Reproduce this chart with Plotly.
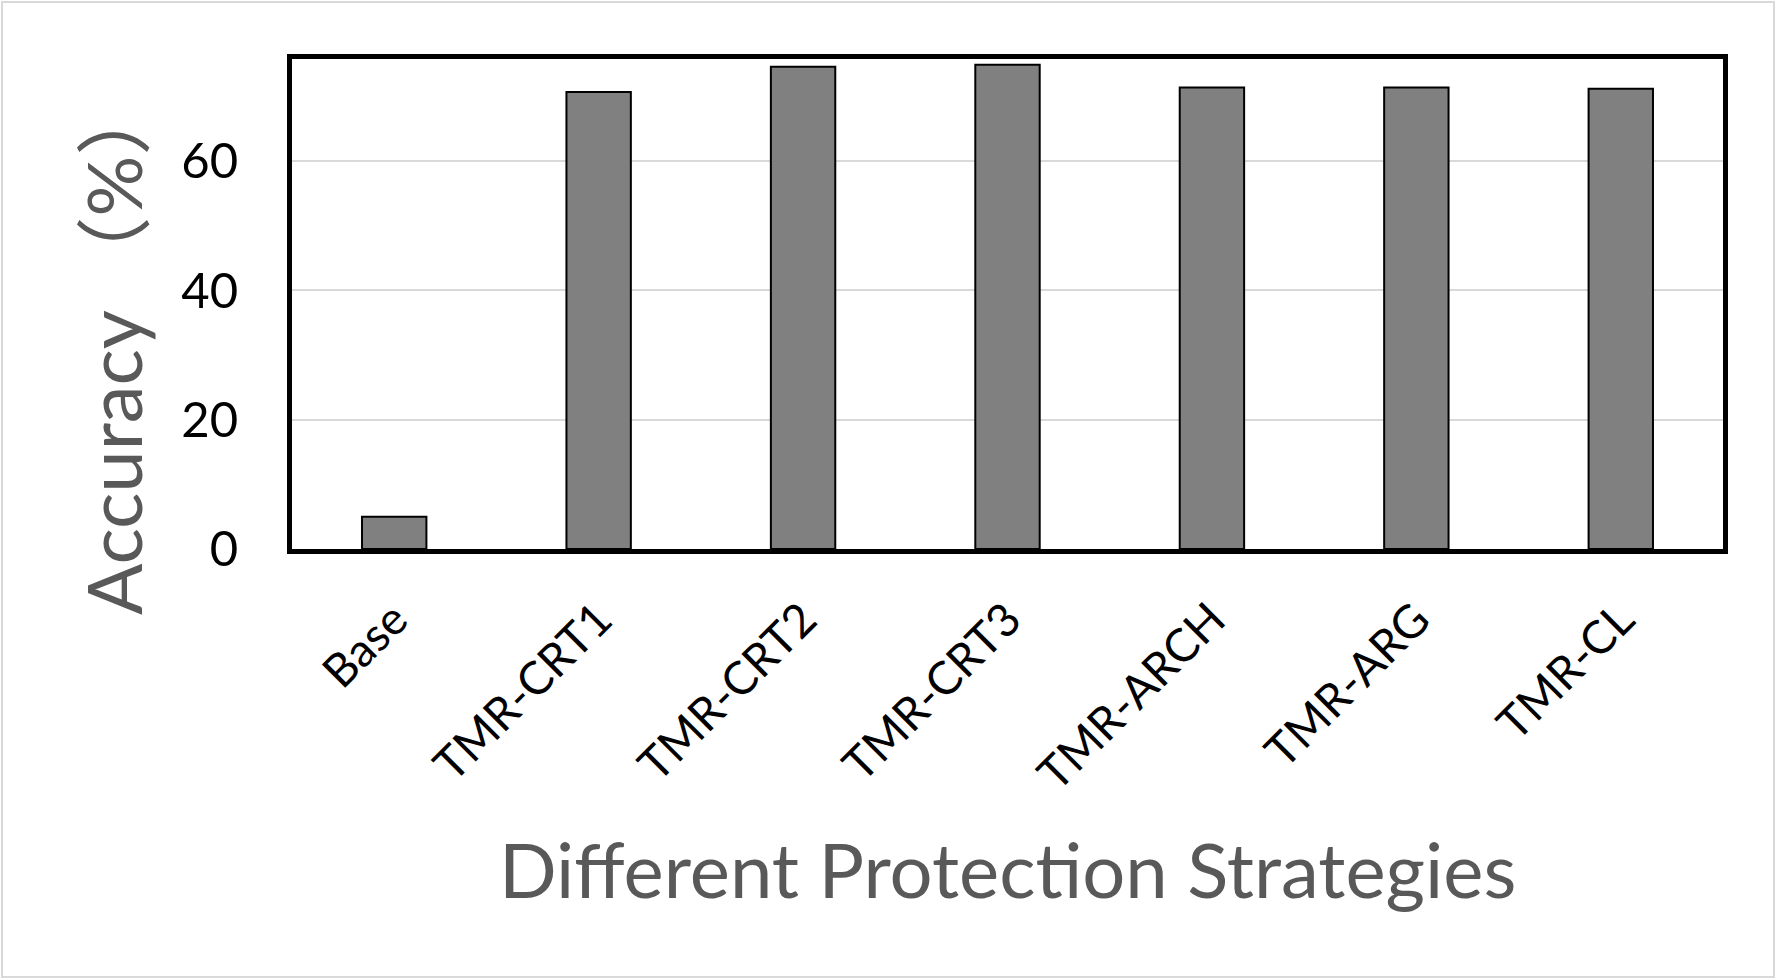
import plotly.graph_objects as go

categories = ["Base", "TMR-CRT1", "TMR-CRT2", "TMR-CRT3", "TMR-ARCH", "TMR-ARG", "TMR-CL"]
accuracy = [5.0, 70.7, 74.6, 74.9, 71.4, 71.4, 71.2]
y_ticks = [0, 20, 40, 60]

W, H = 1776, 979
L, R, T, B = 292, 1723, 59, 549

def px(x):
    return (x - L) / (R - L)

def py(y):
    return (B - y) / (B - T)

fig = go.Figure()
fig.add_trace(go.Bar(
    x=categories, y=accuracy, width=0.315,
    marker=dict(color="#808080", line=dict(color="black", width=2)),
))

fig.update_layout(
    width=W, height=H,
    margin=dict(l=L, r=W - R, t=T, b=H - B),
    plot_bgcolor="white", paper_bgcolor="white",
    showlegend=False,
    font=dict(family="Lato, Noto Sans CJK SC", color="black"),
    xaxis=dict(
        tickangle=-45, tickfont=dict(size=46, color="black"),
        showline=True, mirror=True, linecolor="black", linewidth=5,
        ticks="", ticklabelstandoff=20, range=[-0.5, 6.5],
    ),
    yaxis=dict(
        range=[0, 75.8], tickvals=y_ticks, tickfont=dict(size=49, color="black"),
        showline=True, mirror=True, linecolor="black", linewidth=5,
        showgrid=True, gridcolor="#d9d9d9", gridwidth=2,
        ticks="", ticklabelstandoff=39, zeroline=False,
    ),
    annotations=[
        dict(text="Accuracy （%）", textangle=-90, x=px(112), y=py(347),
             xref="paper", yref="paper", showarrow=False,
             xanchor="center", yanchor="middle",
             font=dict(size=76, color="#595959")),
        dict(text="Different Protection Strategies", x=px(1007), y=py(869),
             xref="paper", yref="paper", showarrow=False,
             xanchor="center", yanchor="middle",
             font=dict(size=76, color="#595959")),
    ],
    shapes=[
        dict(type="rect", xref="paper", yref="paper",
             x0=px(2), x1=px(1774), y0=py(977), y1=py(2),
             line=dict(color="#d9d9d9", width=2), layer="below"),
    ],
)

fig.write_html("out.html", config={"displayModeBar": False},
               post_script="document.body.style.margin='0';")
